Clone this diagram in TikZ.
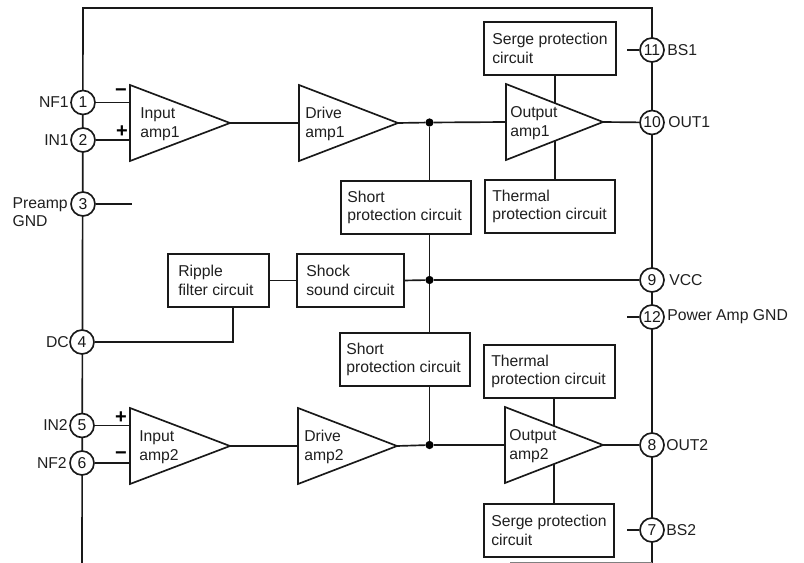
\documentclass[tikz,border=0pt]{standalone}
\usepackage{fontspec}
\setmainfont{Liberation Sans}
\newcommand{\ampblock}[6]{% name, x, y, width, text inset, text
  \coordinate (#1w) at (#2,#3);
  \coordinate (#1e) at (#2+#4,#3);
  \draw[ampline,fill=white] (#2,#3-38) -- (#1e) -- (#2,#3+38) -- cycle;
  \node[lbl,anchor=west] (#1t) at (#2+#5,#3+1) {#6};
}
\newcommand{\boxblock}[7]{% name, x1, y1, x2, y2, text inset, text
  \path[draw,wire,fill=white] (#2,#3) rectangle (#4,#5);
  \coordinate (#1n) at ({(#2+#4)/2},#3);
  \coordinate (#1s) at ({(#2+#4)/2},#5);
  \coordinate (#1w) at (#2,{(#3+#5)/2});
  \coordinate (#1e) at (#4,{(#3+#5)/2});
  \node[lbl,anchor=west] (#1t) at (#2+#6,{(#3+#5)/2}) {#7};
}
\tikzset{
  wire/.style={line width=1.25pt,black!90},
  ampline/.style={line width=1.25pt,black!90,line join=miter},
  lbl/.style={font=\fontsize{11.8pt}{14pt}\selectfont,align=left,inner sep=0pt,text=black!88},
  pin/.style={circle,draw,line width=1.25pt,black!90,fill=white,minimum size=18pt,inner sep=0pt,font=\fontsize{11.8pt}{13pt}\selectfont},
  pl/.style={lbl,anchor=east},
  pr/.style={lbl,anchor=west},
  sgn/.style={font=\fontsize{15pt}{15pt}\selectfont\bfseries,inner sep=0pt},
  junction/.style={circle,fill=black,inner sep=0pt,minimum size=6.2pt}
}
\begin{document}
\begin{tikzpicture}[x=0.75pt,y=-0.75pt]
\useasboundingbox (0,0) rectangle (804,563);
\coordinate (tl) at (83,8);
\coordinate (tr) at (652,8);
\coordinate (bl) at (82,563);
\coordinate (br) at (652,563);
\coordinate (bm) at (510,562);
\draw[wire] (bl) -- (tl) -- (tr) -- (br);
\draw[line width=0.6pt,black!50] (bm) -- (652,562);

% pins
\node[pin] (p1) at (83,102.5) {1};
\node[pin] (p2) at (83,140) {2};
\node[pin] (p3) at (83,204) {3};
\node[pin] (p4) at (82,342) {4};
\node[pin] (p5) at (82,425.5) {5};
\node[pin] (p6) at (82,463) {6};
\node[pin] (p11) at (652,50) {11};
\node[pin] (p10) at (652,122.5) {10};
\node[pin] (p9) at (652,280) {9};
\node[pin] (p12) at (652,317) {12};
\node[pin] (p8) at (652,445) {8};
\node[pin] (p7) at (652,530) {7};

% pin labels
\node[pl] at (69,102) {NF1};
\node[pl] at (69,140) {IN1};
\node[lbl,anchor=east,align=left] at (68,212) {Preamp\\GND};
\node[pl] at (69,342) {DC};
\node[pl] at (68,425) {IN2};
\node[pl] at (67,463) {NF2};
\node[pr] at (667,50) {BS1};
\node[pr] at (668,122) {OUT1};
\node[pr] at (669,280) {VCC};
\node[pr] at (667,317) {Power Amp GND};
\node[pr] at (666,445) {OUT2};
\node[pr] at (666,530) {BS2};

% amplifiers
\ampblock{ia}{130}{123}{100}{10}{Input\\amp1}
\ampblock{da}{299}{123}{99}{6}{Drive\\amp1}
\ampblock{ib}{130}{446}{100}{9}{Input\\amp2}
\ampblock{db}{298}{446}{99}{6}{Drive\\amp2}

% boxes
\boxblock{sa}{484}{22}{616}{75}{8}{Serge protection\\circuit}
\boxblock{ta}{485}{180}{615}{233}{7}{Thermal\\protection circuit}
\boxblock{sh}{341}{181}{471}{234}{6}{Short\\protection circuit}
\boxblock{rp}{168}{254}{269}{307}{10}{Ripple\\filter circuit}
\boxblock{sk}{297}{254}{404}{307}{9}{Shock\\sound circuit}
\boxblock{si}{340}{333}{470}{386}{6}{Short\\protection circuit}
\boxblock{tb}{484}{345}{615}{398}{7}{Thermal\\protection circuit}
\boxblock{sb}{484}{504}{614}{557}{7}{Serge protection\\circuit}

% connectors to output amp supplies (behind the amp)
\coordinate (oat) at (555,75);
\coordinate (oab) at (555,180);
\coordinate (obt) at (554,398);
\coordinate (obb) at (554,504);
\draw[wire] (oat) -- (oab);
\draw[wire] (obt) -- (obb);

\ampblock{oa}{506}{122}{97}{4}{Output\\amp1}
\ampblock{ob}{505}{445}{98}{4}{Output\\amp2}

% junctions
\node[junction] (ja) at (429.5,122.5) {};
\node[junction] (jb) at (429.5,280) {};
\node[junction] (jc) at (429.5,445) {};

% signal wires
\draw[wire] (p1) -- (p1 -| iaw);
\draw[wire] (p2) -- (p2 -| iaw);
\draw[wire] (p5) -- (p5 -| ibw);
\draw[wire] (p6) -- (p6 -| ibw);
\coordinate (p3end) at (132,204);
\draw[wire,line width=0.9pt] (p3) -- (p3end);
\draw[wire] (iae) -- (daw);
\draw[wire] (ibe) -- (dbw);
\draw[wire] (dae) -- (ja);
\draw[wire] (ja) -- (oaw);
\draw[wire] (oae) -- (p10);
\draw[wire] (dbe) -- (jc);
\draw[wire] (jc) -- (obw);
\draw[wire] (obe) -- (p8);
\draw[wire] (ja) -- (ja |- shn);
\draw[wire] (ja |- shs) -- (jb);
\draw[wire] (jb) -- (jb |- sin);
\draw[wire] (jb |- sis) -- (jc);
\draw[wire] (rpe) -- (skw);
\draw[wire] (ske) -- (jb);
\draw[wire] (jb) -- (p9);
\coordinate (rpd) at (233,307);
\draw[wire] (rpd) |- (p4);

% pin stubs
\coordinate (s11) at (627,50);
\coordinate (s12) at (627,317);
\coordinate (s7) at (627,530);
\draw[wire] (p11) -- (s11);
\draw[wire] (p12) -- (s12);
\draw[wire] (p7) -- (s7);

% polarity marks
\node[sgn] (pa) at (122,131.5) {+};
\node[sgn] (ma) at (121,93) {−};
\node[sgn] (pb) at (121,418) {+};
\node[sgn] (mb) at (121,456) {−};
\end{tikzpicture}
\end{document}
